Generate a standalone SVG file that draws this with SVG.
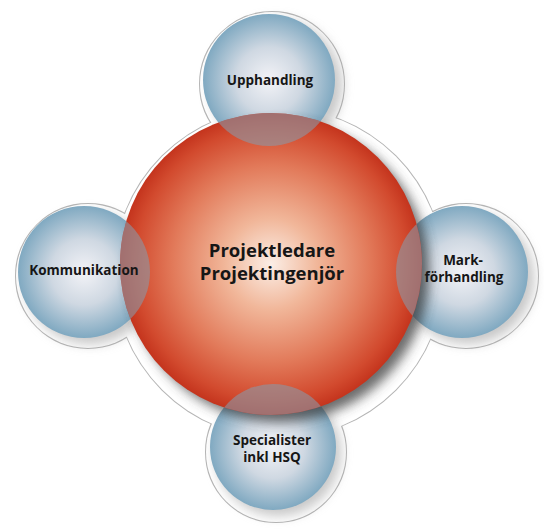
<svg xmlns="http://www.w3.org/2000/svg" width="544" height="529" viewBox="0 0 544 529">
  <defs>
    <radialGradient id="redG" cx="0.5" cy="0.5" r="0.5">
      <stop offset="0" stop-color="#fbeee6"/>
      <stop offset="0.3" stop-color="#f1b79a"/>
      <stop offset="0.65" stop-color="#e27a5a"/>
      <stop offset="0.9" stop-color="#d24a2e"/>
      <stop offset="1" stop-color="#c4341d"/>
    </radialGradient>
    <radialGradient id="blueG" cx="0.5" cy="0.5" r="0.5">
      <stop offset="0" stop-color="#f3f3f7"/>
      <stop offset="0.5" stop-color="#cfd8e2"/>
      <stop offset="1" stop-color="#80a9c1"/>
    </radialGradient>
    <filter id="blur" x="-30%" y="-30%" width="160%" height="160%">
      <feGaussianBlur stdDeviation="6"/>
    </filter>
    <clipPath id="redClip"><circle cx="271" cy="264" r="151"/></clipPath>
    <style>
      .halo-line { fill: none; stroke: #b5b5b5; stroke-width: 2; }
      .halo-fill { fill: #ffffff; }
      .shadow { fill: #3a3a3a; opacity: 0.75; filter: url(#blur); }
      .bshadow { fill: #9a9a9a; opacity: 0.55; filter: url(#blur); }
      .blue { fill: url(#blueG); }
      .overlap { fill: #8b98a6; opacity: 0.6; }
      .lbl { font-family: "Open Sans", "Liberation Sans", sans-serif; font-weight: bold; fill: #161616; text-anchor: middle; }
      .small { font-size: 13.5px; }
      .big { font-size: 18.5px; }
    </style>
  </defs>
  <rect width="544" height="529" fill="#ffffff"/>

  <g id="halo">
    <circle class="halo-line" cx="279" cy="273" r="165"/>
    <circle class="halo-line" cx="272" cy="84" r="72"/>
    <circle class="halo-line" cx="88" cy="276" r="72"/>
    <circle class="halo-line" cx="466" cy="276" r="72"/>
    <circle class="halo-line" cx="276" cy="452" r="70"/>
    <circle class="halo-fill" cx="279" cy="273" r="165"/>
    <circle class="halo-fill" cx="272" cy="84" r="72"/>
    <circle class="halo-fill" cx="88" cy="276" r="72"/>
    <circle class="halo-fill" cx="466" cy="276" r="72"/>
    <circle class="halo-fill" cx="276" cy="452" r="70"/>
  </g>

  <g id="shadows">
    <circle class="bshadow" cx="276" cy="85" r="66"/>
    <circle class="bshadow" cx="90" cy="278" r="66"/>
    <circle class="bshadow" cx="468" cy="278" r="66"/>
    <circle class="bshadow" cx="278" cy="453" r="63"/>
  </g>

  <g id="node-upphandling">
    <circle class="blue" cx="269" cy="80" r="66"/>
  </g>
  <g id="node-kommunikation">
    <circle class="blue" cx="84" cy="272" r="66"/>
  </g>
  <g id="node-markforhandling">
    <circle class="blue" cx="462" cy="272" r="66"/>
  </g>
  <g id="node-specialister">
    <circle class="blue" cx="273" cy="447" r="63"/>
  </g>

  <g id="node-projektledare">
    <circle class="shadow" cx="279" cy="272" r="150"/>
    <circle cx="271" cy="264" r="151" fill="url(#redG)"/>
    <g clip-path="url(#redClip)">
      <circle class="overlap" cx="269" cy="80" r="66"/>
      <circle class="overlap" cx="84" cy="272" r="66"/>
      <circle class="overlap" cx="462" cy="272" r="66"/>
      <circle class="overlap" cx="273" cy="447" r="63"/>
    </g>
  </g>

  <g id="labels">
    <text class="lbl big" x="272" y="257">Projektledare</text>
    <text class="lbl big" x="272" y="280">Projektingenjör</text>
    <text class="lbl small" x="270" y="85">Upphandling</text>
    <text class="lbl small" x="84" y="275">Kommunikation</text>
    <text class="lbl small" x="463" y="265">Mark-</text>
    <text class="lbl small" x="464" y="282">förhandling</text>
    <text class="lbl small" x="272" y="445">Specialister</text>
    <text class="lbl small" x="272" y="462">inkl HSQ</text>
  </g>

  <g id="connectors"/>
</svg>
